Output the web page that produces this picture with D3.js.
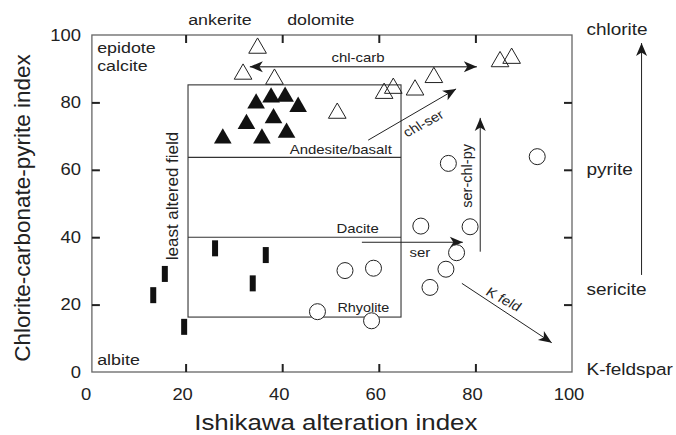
<!DOCTYPE html>
<html>
<head>
<meta charset="utf-8">
<script src="https://cdn.jsdelivr.net/npm/d3@7"></script>
<style>
  body { margin: 0; background: #fff; }
  svg text { font-family: "Liberation Sans", Arial, Helvetica, sans-serif; fill: #222; }
</style>
</head>
<body>
<div id="chart"></div>
<script>
// Data (Ishikawa AI vs CCPI)
const openTriX = [34.9, 31.9, 38.4, 51.4, 61.1, 63.0, 67.5, 71.4, 85.1, 87.5];
const openTriY = [96.1, 88.4, 86.9, 76.8, 82.7, 84.2, 83.7, 87.4, 92.1, 93.1];

const filledTriX = [34.6, 37.7, 40.6, 43.3, 32.6, 38.2, 27.7, 35.8, 40.9];
const filledTriY = [79.7, 81.5, 81.7, 78.7, 73.6, 75.3, 69.3, 69.3, 71.0];

const circleX = [74.4, 92.8, 68.7, 78.9, 76.1, 73.9, 53.0, 58.9, 70.6, 58.5, 47.3];
const circleY = [61.9, 63.9, 43.3, 43.1, 35.4, 30.5, 30.1, 30.8, 25.1, 15.2, 17.9];

const barX = [15.7, 13.3, 19.7, 33.9, 26.1, 36.6];
const barY = [29.1, 22.8, 13.4, 26.3, 36.7, 34.7];

const xTicks = [0, 20, 40, 60, 80, 100];
const yTicks = [0, 20, 40, 60, 80, 100];

// least altered field box and its dividers
const fieldX = [20.5, 64.6];
const fieldTop = 85.2;
const fieldBottom = 16.3;
const fieldDividers = [63.7, 40.0];

// arrows: [x1, y1, x2, y2]
const arrows = [
    { name: 'chl-carb', pts: [33.3, 90.6, 80.3, 90.6], both: true },
    { name: 'chl-ser', pts: [57.8, 68.8, 76.0, 84.0] },
    { name: 'ser-chl-py', pts: [81.0, 35.7, 81.0, 75.4] },
    { name: 'ser', pts: [56.5, 38.5, 77.4, 38.5] },
    { name: 'K feld', pts: [77.2, 26.3, 95.8, 8.7] },
    { name: 'right', pts: [114.4, 28.8, 114.4, 97.6] }
];

const width = 676, height = 435;
const sx = 1.15; // glyphs in the figure are a bit wide

const svg = d3.select('#chart').append('svg')
    .attr('width', width)
    .attr('height', height);

const x = d3.scaleLinear().domain([0, 100]).range([89, 572]);
const y = d3.scaleLinear().domain([0, 100]).range([372, 35]);

const defs = svg.append('defs');
defs.append('marker')
    .attr('id', 'head')
    .attr('markerUnits', 'userSpaceOnUse')
    .attr('viewBox', '-14 -6 16 12')
    .attr('refX', 0)
    .attr('refY', 0)
    .attr('markerWidth', 16)
    .attr('markerHeight', 12)
    .attr('orient', 'auto-start-reverse')
    .append('path')
    .attr('d', 'M0,0 L-13,-5.5 L-9.5,0 L-13,5.5 Z')
    .attr('fill', '#1a1a1a');

// helper for text, with horizontal stretch
function label(str, px, py, opts = {}) {
    const rot = opts.rotate || 0;
    const s = opts.stretch === false ? 1 : sx;
    return svg.append('text')
        .attr('transform', `translate(${px},${py}) scale(${s},1) rotate(${rot})`)
        .attr('text-anchor', opts.anchor || 'start')
        .attr('dominant-baseline', opts.baseline || 'auto')
        .style('font-size', (opts.size || 13) + 'px')
        .text(str);
}

// frame
svg.append('rect')
    .attr('x', x(0.6))
    .attr('y', y(100))
    .attr('width', x(100) - x(0.6))
    .attr('height', y(0) - y(100))
    .attr('fill', 'none')
    .attr('stroke', '#666')
    .attr('stroke-width', 1.3);

// axes with inward ticks
const inner = [20, 40, 60, 80];
const gB = svg.append('g').attr('transform', `translate(0,${y(0)})`)
    .call(d3.axisBottom(x).tickValues(inner).tickSize(-8).tickFormat(''));
const gT = svg.append('g').attr('transform', `translate(0,${y(100)})`)
    .call(d3.axisTop(x).tickValues(inner).tickSize(-8).tickFormat(''));
const gL = svg.append('g').attr('transform', `translate(${x(0.6)},0)`)
    .call(d3.axisLeft(y).tickValues(inner).tickSize(-8).tickFormat(''));
const gR = svg.append('g').attr('transform', `translate(${x(100)},0)`)
    .call(d3.axisRight(y).tickValues(inner).tickSize(-8).tickFormat(''));
[gB, gT, gL, gR].forEach(g => {
    g.select('.domain').remove();
    g.selectAll('line').attr('stroke', '#222').attr('stroke-width', 2);
});

// tick labels
xTicks.forEach(v => label(String(v), x(v) - 3, 400, { anchor: 'middle', size: 16 }));
yTicks.forEach(v => label(String(v), 81, y(v), { anchor: 'end', baseline: 'central', size: 16 }));

// axis titles
label('Ishikawa alteration index', x(51.1), 430, { anchor: 'middle', size: 22.5 });
label('Chlorite-carbonate-pyrite index', 22, 208,
    { anchor: 'middle', baseline: 'central', size: 22.5, rotate: -90, stretch: false });

// mineral labels around the frame
label('ankerite', x(27.1), 25, { anchor: 'middle', size: 15.5 });
label('dolomite', x(48.0), 25, { anchor: 'middle', size: 15.5 });
label('chlorite', x(103), y(100), { size: 16.5 });
label('pyrite', x(103), y(58.5), { size: 16.5 });
label('sericite', x(103), y(22.8), { size: 16.5 });
label('K-feldspar', x(103), y(-0.9), { size: 16.5 });
label('epidote', x(1.7), y(94.7), { size: 15.5 });
label('calcite', x(1.7), y(89.3), { size: 15.5 });
label('albite', x(1.7), y(2.1), { size: 15.5 });

// least altered field
const field = svg.append('g')
    .attr('fill', 'none')
    .attr('stroke', '#333')
    .attr('stroke-width', 1.1);
field.append('rect')
    .attr('x', x(fieldX[0]))
    .attr('y', y(fieldTop))
    .attr('width', x(fieldX[1]) - x(fieldX[0]))
    .attr('height', y(fieldBottom) - y(fieldTop));
fieldDividers.forEach(v => {
    field.append('line')
        .attr('x1', x(fieldX[0])).attr('x2', x(fieldX[1]))
        .attr('y1', y(v)).attr('y2', y(v));
});
label('least altered field', 172, 196,
    { anchor: 'middle', baseline: 'central', size: 17, rotate: -90, stretch: false });
label('Andesite/basalt', x(62.7), y(64.7), { anchor: 'end', size: 13 });
label('Dacite', x(60.0), y(41.2), { anchor: 'end', size: 13 });
label('Rhyolite', x(56.8), y(17.9), { anchor: 'middle', size: 12.5 });

// arrows
arrows.forEach(a => {
    const [x1, y1, x2, y2] = a.pts;
    svg.append('line')
        .attr('x1', x(x1)).attr('y1', y(y1))
        .attr('x2', x(x2)).attr('y2', y(y2))
        .attr('stroke', a.name === 'chl-carb' ? '#555' : '#222')
        .attr('stroke-width', a.name === 'chl-carb' ? 1.6 : 1)
        .attr('marker-end', 'url(#head)')
        .attr('marker-start', a.both ? 'url(#head)' : null);
});
label('chl-carb', x(55.7), y(92), { anchor: 'middle', size: 13 });
label('chl-ser', x(69.2), y(73.8), { anchor: 'middle', baseline: 'central', size: 13, rotate: -32 });
label('ser-chl-py', x(78.2), y(58.2),
    { anchor: 'middle', baseline: 'central', size: 14.5, rotate: -90, stretch: false });
label('ser', x(68.5), y(34.2), { anchor: 'middle', size: 13 });
label('K feld', x(85.9), y(21.6), { anchor: 'middle', baseline: 'central', size: 13, rotate: 32 });

// data marks
const tri = d3.symbol().type(d3.symbolTriangle).size(135);

svg.append('g').selectAll('path.open')
    .data(d3.zip(openTriX, openTriY))
    .join('path')
    .attr('class', 'open')
    .attr('d', tri)
    .attr('transform', d => `translate(${x(d[0])},${y(d[1])})`)
    .attr('fill', 'none')
    .attr('stroke', '#222')
    .attr('stroke-width', 1);

svg.append('g').selectAll('path.filled')
    .data(d3.zip(filledTriX, filledTriY))
    .join('path')
    .attr('class', 'filled')
    .attr('d', tri)
    .attr('transform', d => `translate(${x(d[0])},${y(d[1])})`)
    .attr('fill', '#111');

svg.append('g').selectAll('circle')
    .data(d3.zip(circleX, circleY))
    .join('circle')
    .attr('cx', d => x(d[0]))
    .attr('cy', d => y(d[1]))
    .attr('r', 8)
    .attr('fill', '#fff')
    .attr('stroke', '#222')
    .attr('stroke-width', 1);

svg.append('g').selectAll('rect')
    .data(d3.zip(barX, barY))
    .join('rect')
    .attr('x', d => x(d[0]) - 3)
    .attr('y', d => y(d[1]) - 8)
    .attr('width', 6)
    .attr('height', 16)
    .attr('fill', '#111');
</script>
</body>
</html>
